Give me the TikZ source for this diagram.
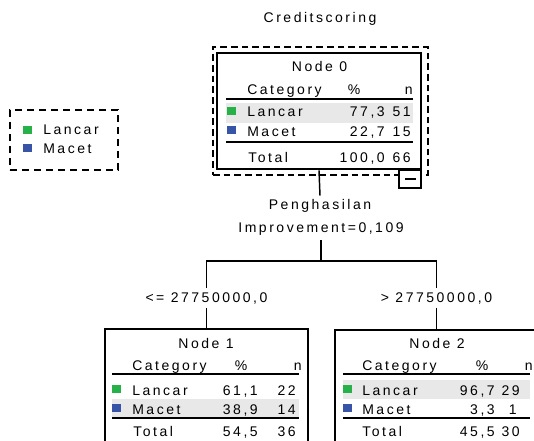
\documentclass[tikz,border=0pt]{standalone}
\usepackage{fontspec}
\setmainfont{Liberation Sans}[LetterSpace=18]
\usetikzlibrary{fit}
\definecolor{cgreen}{RGB}{38,178,72}
\definecolor{cblue}{RGB}{56,84,166}
\definecolor{chl}{RGB}{232,232,232}
\begin{document}
\begin{tikzpicture}[x=0.75pt,y=-0.75pt,
  every node/.style={inner sep=0pt, font=\fontsize{10.5pt}{12pt}\selectfont},
  t/.style={anchor=base west},
  r/.style={anchor=base east},
  c/.style={anchor=base},
  lbl/.style={anchor=base, inner sep=3pt},
  thinbox/.style={draw, line width=1.1pt, inner sep=0pt},
  rule/.style={line width=1.1pt},
  conn/.style={line width=1.1pt},
  sqg/.style={fill=cgreen},
  sqb/.style={fill=cblue},
  hl/.style={fill=chl},
  dashbox/.style={draw, line width=1.2pt, dash pattern=on 5pt off 3pt, inner sep=0pt}
]
\useasboundingbox (0,0) rectangle (534,441);

% title
\node[c] (title) at (320,23) {Creditscoring};

% legend
\node[dashbox, dash pattern=on 5pt off 4pt, fit={(10,110) (118,170)}] (legend) {};
\fill[sqg] (23,126) rectangle (32,134);
\node[t] (lg1) at (43,135) {Lancar};
\fill[sqb] (23,144) rectangle (32,152);
\node[t] (lg2) at (43,154) {Macet};

% node 0
\node[dashbox, fit={(213,47) (428,175)}] (n0sel) {};
\node[draw, line width=2.2pt, fit={(217,53) (421,169)}] (n0) {};
\node[c] (n0t) at (319.5,71.5) {Node 0};
\node[t] (n0h1) at (247,95) {Category};
\node[c] (n0h2) at (354,95) {\%};
\node[r] (n0h3) at (413,95) {n};
\draw[rule] (226,99) -- (413,99);
\fill[hl] (226,103) rectangle (413,123);
\fill[sqg] (227,107) rectangle (236,115);
\node[t] (n0a1) at (247,117) {Lancar};
\node[r] (n0a2) at (385,117) {77,3};
\node[r] (n0a3) at (411,117) {51};
\fill[sqb] (227,126) rectangle (236,134);
\node[t] (n0b1) at (247,136.5) {Macet};
\node[r] (n0b2) at (385,136.5) {22,7};
\node[r] (n0b3) at (411,136.5) {15};
\draw[rule] (226,142) -- (413,142);
\node[t] (n0c1) at (248,162.5) {Total};
\node[r] (n0c2) at (385,162.5) {100,0};
\node[r] (n0c3) at (411,162.5) {66};
\node[thinbox, fill=white, fit={(399,170) (421,188)}] (n0min) {};
\draw[line width=1.1pt] (405,179) -- (416,179);

% split labels
\node[lbl] (pvar) at (320,210) {Penghasilan};
\node[lbl] (pimp) at (321,233) {Improvement=0,109};
\coordinate (j) at (321,261);
\node[lbl] (l1) at (206.5,302) {<= 27750000,0};
\node[lbl] (l2) at (436.5,302) {> 27750000,0};

% node 1
\node[thinbox, fit={(105,329) (308,470)}] (n1) {};
\node[c] (n1t) at (206,348) {Node 1};
\node[t] (n1h1) at (132,370) {Category};
\node[c] (n1h2) at (241,370) {\%};
\node[r] (n1h3) at (302,370) {n};
\draw[rule] (112,374) -- (299,374);
\fill[hl] (112,399) rectangle (299,417);
\fill[sqg] (112,385) rectangle (121,393);
\node[t] (n1a1) at (132,395) {Lancar};
\node[r] (n1a2) at (258,395) {61,1};
\node[r] (n1a3) at (296,395) {22};
\fill[sqb] (112,404) rectangle (121,412);
\node[t] (n1b1) at (132,414) {Macet};
\node[r] (n1b2) at (258,414) {38,9};
\node[r] (n1b3) at (296,414) {14};
\draw[rule] (112,418) -- (299,418);
\node[t] (n1c1) at (133,436.5) {Total};
\node[r] (n1c2) at (258,436.5) {54,5};
\node[r] (n1c3) at (296,436.5) {36};

% node 2
\node[thinbox, fit={(335,330) (538,470)}] (n2) {};
\node[c] (n2t) at (437,348) {Node 2};
\node[t] (n2h1) at (362,370) {Category};
\node[c] (n2h2) at (482,370) {\%};
\node[r] (n2h3) at (533,370) {n};
\draw[rule] (343,374) -- (530,374);
\fill[hl] (343,380) rectangle (530,399);
\fill[sqg] (343,385) rectangle (352,393);
\node[t] (n2a1) at (362,395) {Lancar};
\node[r] (n2a2) at (495,395) {96,7};
\node[r] (n2a3) at (520,395) {29};
\fill[sqb] (343,404) rectangle (352,412);
\node[t] (n2b1) at (362,414) {Macet};
\node[r] (n2b2) at (495,414) {3,3};
\node[r] (n2b3) at (517,414) {1};
\draw[rule] (343,418) -- (530,418);
\node[t] (n2c1) at (362,436.5) {Total};
\node[r] (n2c2) at (495,436.5) {45,5};
\node[r] (n2c3) at (520,436.5) {30};

% connectors
\draw[conn] (n0.south) -- (pvar.north);
\draw[conn] (pimp.south) -- (j);
\draw[conn] (l1.north) |- (j) -| (l2.north);
\draw[conn] (l1.south) -- (n1.north);
\draw[conn] (l2.south) -- (n2.north);
\end{tikzpicture}
\end{document}
